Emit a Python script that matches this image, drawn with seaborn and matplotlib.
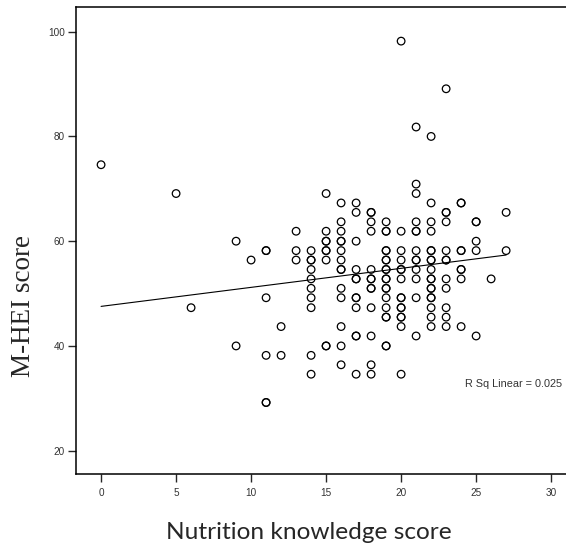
import matplotlib
matplotlib.use("Agg")
import matplotlib.pyplot as plt
import seaborn as sns
import pandas as pd

# Nutrition knowledge score (x) for each respondent, grouped by column
knowledge = (
    [0] + [5] + [6] + [9] * 2 + [10] + [11] * 6 + [12] * 2 + [13] * 3
    + [14] * 10 + [15] * 9 + [16] * 14 + [17] * 12 + [18] * 13
    + [19] * 19 + [20] * 15 + [21] * 13 + [22] * 18 + [23] * 12
    + [24] * 8 + [25] * 5 + [26] + [27] * 2
)

# M-HEI score (y), same order as above
mhei = [
    74.6,
    69.1,
    47.3,
    60.0, 40.0,
    56.4,
    58.2, 58.2, 49.2, 38.2, 29.2, 29.2,
    43.7, 38.2,
    61.9, 58.2, 56.4,
    58.2, 56.4, 56.4, 54.6, 52.8, 51.0, 49.2, 47.3, 38.2, 34.6,
    69.1, 61.9, 60.0, 60.0, 58.2, 58.2, 56.4, 40.0, 40.0,
    67.3, 63.7, 61.9, 60.0, 60.0, 58.2, 56.4, 54.6, 54.6, 51.0, 49.2, 43.7, 40.0, 36.4,
    67.3, 65.5, 60.0, 54.6, 52.8, 52.8, 49.2, 49.2, 47.3, 41.9, 41.9, 34.6,
    65.5, 65.5, 63.7, 61.9, 54.6, 52.8, 52.8, 51.0, 51.0, 47.3, 41.9, 36.4, 34.6,
    63.7, 61.9, 61.9, 58.2, 58.2, 56.4, 56.4, 54.6, 54.6, 52.8, 52.8, 51.0, 51.0,
    49.2, 47.3, 45.5, 45.5, 40.0, 40.0,
    98.2, 61.9, 58.2, 56.4, 54.6, 54.6, 52.8, 49.2, 49.2, 47.3, 47.3, 45.5, 45.5, 43.7, 34.6,
    81.8, 70.9, 69.1, 63.7, 61.9, 61.9, 58.2, 56.4, 56.4, 54.6, 52.8, 49.2, 41.9,
    80.0, 67.3, 63.7, 61.9, 58.2, 58.2, 56.4, 56.4, 54.6, 52.8, 52.8, 51.0, 51.0,
    49.2, 49.2, 47.3, 45.5, 43.7,
    89.1, 65.5, 65.5, 63.7, 58.2, 56.4, 56.4, 52.8, 51.0, 47.3, 45.5, 43.7,
    67.3, 67.3, 58.2, 58.2, 54.6, 54.6, 52.8, 43.7,
    63.7, 63.7, 60.0, 58.2, 41.9,
    52.8,
    65.5, 58.2,
]

x_ticks = [0, 5, 10, 15, 20, 25, 30]
y_ticks = [20, 40, 60, 80, 100]
r_sq_label = "R Sq Linear = 0.025"

df = pd.DataFrame({"knowledge": knowledge, "mhei": mhei})

sns.set_style("ticks")
plt.rcParams["font.family"] = ["Liberation Sans", "DejaVu Sans"]

fig = plt.figure(figsize=(5.66, 5.46), dpi=100)
# axes runs past the right edge of the image, as in the cropped original
ax = fig.add_axes([0.1343, 0.1319, 0.8837, 0.8558])

sns.scatterplot(data=df, x="knowledge", y="mhei", ax=ax, marker="o",
                s=30, facecolor="none", edgecolor="black", linewidth=0.9,
                legend=False)
sns.regplot(data=df, x="knowledge", y="mhei", ax=ax, scatter=False,
            ci=None, color="black", line_kws={"linewidth": 0.8})

ax.set_xlim(-1.67, 31.67)
ax.set_ylim(15.55, 104.77)
ax.set_xticks(x_ticks)
ax.set_yticks(y_ticks)
ax.tick_params(direction="out", length=5.8, width=1.0, labelsize=7.2,
               labelcolor="#333333", pad=2)
ax.tick_params(axis="x", pad=4)
for side in ["left", "bottom", "top"]:
    ax.spines[side].set_color("black")
    ax.spines[side].set_linewidth(1.1)
ax.spines["right"].set_visible(False)
ax.set_xlabel("")
ax.set_ylabel("")

ax.text(24.27, 32.7, r_sq_label, fontsize=7.8, color="#333333", va="center")

fig.text(24 / 566, 1 - 306 / 546, "M-HEI score", rotation=90,
         family=["Liberation Serif"], fontsize=19.5, ha="center", va="center")
fig.text(309 / 566, 1 - 539 / 546, "Nutrition knowledge score",
         family=["Lato"], fontsize=17.6, ha="center", va="baseline")

fig.savefig("out.png", dpi=100)
